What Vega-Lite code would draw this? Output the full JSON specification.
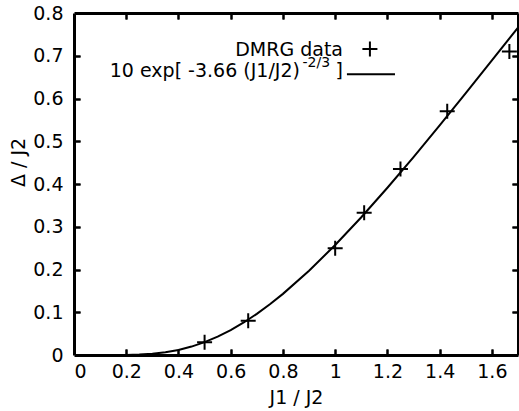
{
  "$schema": "https://vega.github.io/schema/vega-lite/v6.json",
  "width": 444,
  "height": 342,
  "autosize": "none",
  "padding": {"left": 74, "top": 13, "right": 1, "bottom": 56},
  "background": "white",
  "config": {
    "view": {"stroke": null},
    "font": "DejaVu Sans",
    "axis": {
      "grid": false,
      "domainColor": "black",
      "domainWidth": 3,
      "tickColor": "black",
      "tickWidth": 2,
      "tickSize": 6,
      "labelFont": "DejaVu Sans",
      "labelFontSize": 19,
      "labelColor": "black",
      "titleFont": "DejaVu Sans",
      "titleFontSize": 19,
      "titleFontWeight": "normal",
      "titleColor": "black"
    }
  },
  "datasets": {
    "curve": [
      {"x": 0.2, "y": 0.0002},
      {"x": 0.25, "y": 0.001},
      {"x": 0.3, "y": 0.0028},
      {"x": 0.35, "y": 0.0063},
      {"x": 0.4, "y": 0.0118},
      {"x": 0.45, "y": 0.0197},
      {"x": 0.5, "y": 0.03},
      {"x": 0.55, "y": 0.0429},
      {"x": 0.6, "y": 0.0583},
      {"x": 0.65, "y": 0.0761},
      {"x": 0.7, "y": 0.0963},
      {"x": 0.75, "y": 0.1187},
      {"x": 0.8, "y": 0.143},
      {"x": 0.9, "y": 0.1971},
      {"x": 1.0, "y": 0.2573},
      {"x": 1.1, "y": 0.3223},
      {"x": 1.2, "y": 0.3912},
      {"x": 1.3, "y": 0.4629},
      {"x": 1.4, "y": 0.5369},
      {"x": 1.5, "y": 0.6124},
      {"x": 1.6, "y": 0.6889},
      {"x": 1.7, "y": 0.7659}
    ],
    "dmrg": [
      {"x": 0.5, "y": 0.03},
      {"x": 0.667, "y": 0.08},
      {"x": 1.0, "y": 0.25},
      {"x": 1.111, "y": 0.333},
      {"x": 1.25, "y": 0.435},
      {"x": 1.429, "y": 0.57},
      {"x": 1.667, "y": 0.71}
    ],
    "one": [{"k": 1}]
  },
  "resolve": {"axis": {"x": "independent", "y": "independent"}},
  "layer": [
    {
      "data": {"name": "curve"},
      "mark": {"type": "line", "color": "black", "strokeWidth": 2},
      "encoding": {
        "x": {"field": "x", "type": "quantitative",
              "scale": {"domain": [0, 1.7], "nice": false},
              "axis": {"orient": "bottom", "values": [0, 0.2, 0.4, 0.6, 0.8, 1, 1.2, 1.4, 1.6], "format": "~g", "ticks": false,
                       "labelPadding": 7, "title": "J1 / J2", "titleY": 48, "titleBaseline": "alphabetic"}},
        "y": {"field": "y", "type": "quantitative",
              "scale": {"domain": [0, 0.8], "nice": false},
              "axis": {"orient": "left", "values": [0, 0.1, 0.2, 0.3, 0.4, 0.5, 0.6, 0.7, 0.8], "format": ".1~f", "ticks": false,
                       "labelPadding": 11, "title": "Δ / J2", "titleX": -50, "titleY": 149, "titleBaseline": "alphabetic"}}
      }
    },
    {
      "data": {"name": "dmrg"},
      "mark": {"type": "point", "shape": "M-1,0H1M0,-1V1", "filled": false, "color": "black", "strokeWidth": 2, "size": 225, "opacity": 1},
      "encoding": {
        "x": {"field": "x", "type": "quantitative",
              "axis": {"orient": "top", "ticks": false, "labels": false, "title": null}},
        "y": {"field": "y", "type": "quantitative",
              "axis": {"orient": "right", "ticks": false, "labels": false, "title": null}}
      }
    },
    {
      "data": {"name": "one"},
      "mark": {"type": "text", "align": "right", "baseline": "alphabetic", "fontSize": 19, "font": "DejaVu Sans", "color": "black"},
      "encoding": {
        "x": {"datum": 1.03, "type": "quantitative",
              "axis": {"orient": "bottom", "offset": -6, "domain": false, "labels": false, "title": null, "values": [0.2, 0.4, 0.6, 0.8, 1, 1.2, 1.4, 1.6],
                       "grid": true, "gridColor": "black", "gridWidth": 2, "gridOpacity": 1, "gridDash": [6, 330, 6]}},
        "y": {"datum": 0.699, "type": "quantitative",
              "axis": {"orient": "left", "offset": -6, "domain": false, "labels": false, "title": null, "values": [0.1, 0.2, 0.3, 0.4, 0.5, 0.6, 0.7],
                       "grid": true, "gridColor": "black", "gridWidth": 2, "gridOpacity": 1, "gridDash": [6, 432, 6]}},
        "text": {"value": "DMRG data"}
      }
    },
    {
      "data": {"name": "one"},
      "mark": {"type": "point", "shape": "M-1,0H1M0,-1V1", "filled": false, "color": "black", "strokeWidth": 2, "size": 225, "opacity": 1},
      "encoding": {
        "x": {"datum": 1.133, "type": "quantitative",
              "axis": {"orient": "top", "offset": -6, "domain": false, "labels": false, "title": null, "values": [0.2, 0.4, 0.6, 0.8, 1, 1.2, 1.4, 1.6]}},
        "y": {"datum": 0.716, "type": "quantitative",
              "axis": {"orient": "right", "offset": -6, "domain": false, "labels": false, "title": null, "values": [0.1, 0.2, 0.3, 0.4, 0.5, 0.6, 0.7]}}
      }
    },
    {
      "data": {"name": "one"},
      "mark": {"type": "text", "align": "right", "baseline": "alphabetic", "fontSize": 19, "font": "DejaVu Sans", "color": "black"},
      "encoding": {
        "x": {"datum": 0.865, "type": "quantitative", "axis": null},
        "y": {"datum": 0.65, "type": "quantitative", "axis": null},
        "text": {"value": "10 exp[ -3.66 (J1/J2)"}
      }
    },
    {
      "data": {"name": "one"},
      "mark": {"type": "text", "align": "left", "baseline": "alphabetic", "fontSize": 14, "font": "DejaVu Sans", "color": "black"},
      "encoding": {
        "x": {"datum": 0.875, "type": "quantitative", "axis": null},
        "y": {"datum": 0.673, "type": "quantitative", "axis": null},
        "text": {"value": "-2/3"}
      }
    },
    {
      "data": {"name": "one"},
      "mark": {"type": "text", "align": "right", "baseline": "alphabetic", "fontSize": 19, "font": "DejaVu Sans", "color": "black"},
      "encoding": {
        "x": {"datum": 1.03, "type": "quantitative", "axis": null},
        "y": {"datum": 0.65, "type": "quantitative", "axis": null},
        "text": {"value": "]"}
      }
    },
    {
      "data": {"name": "one"},
      "mark": {"type": "rule", "color": "black", "strokeWidth": 2},
      "encoding": {
        "x": {"datum": 1.045, "type": "quantitative", "axis": null},
        "x2": {"datum": 1.229},
        "y": {"datum": 0.657, "type": "quantitative", "axis": null}
      }
    }
  ]
}
